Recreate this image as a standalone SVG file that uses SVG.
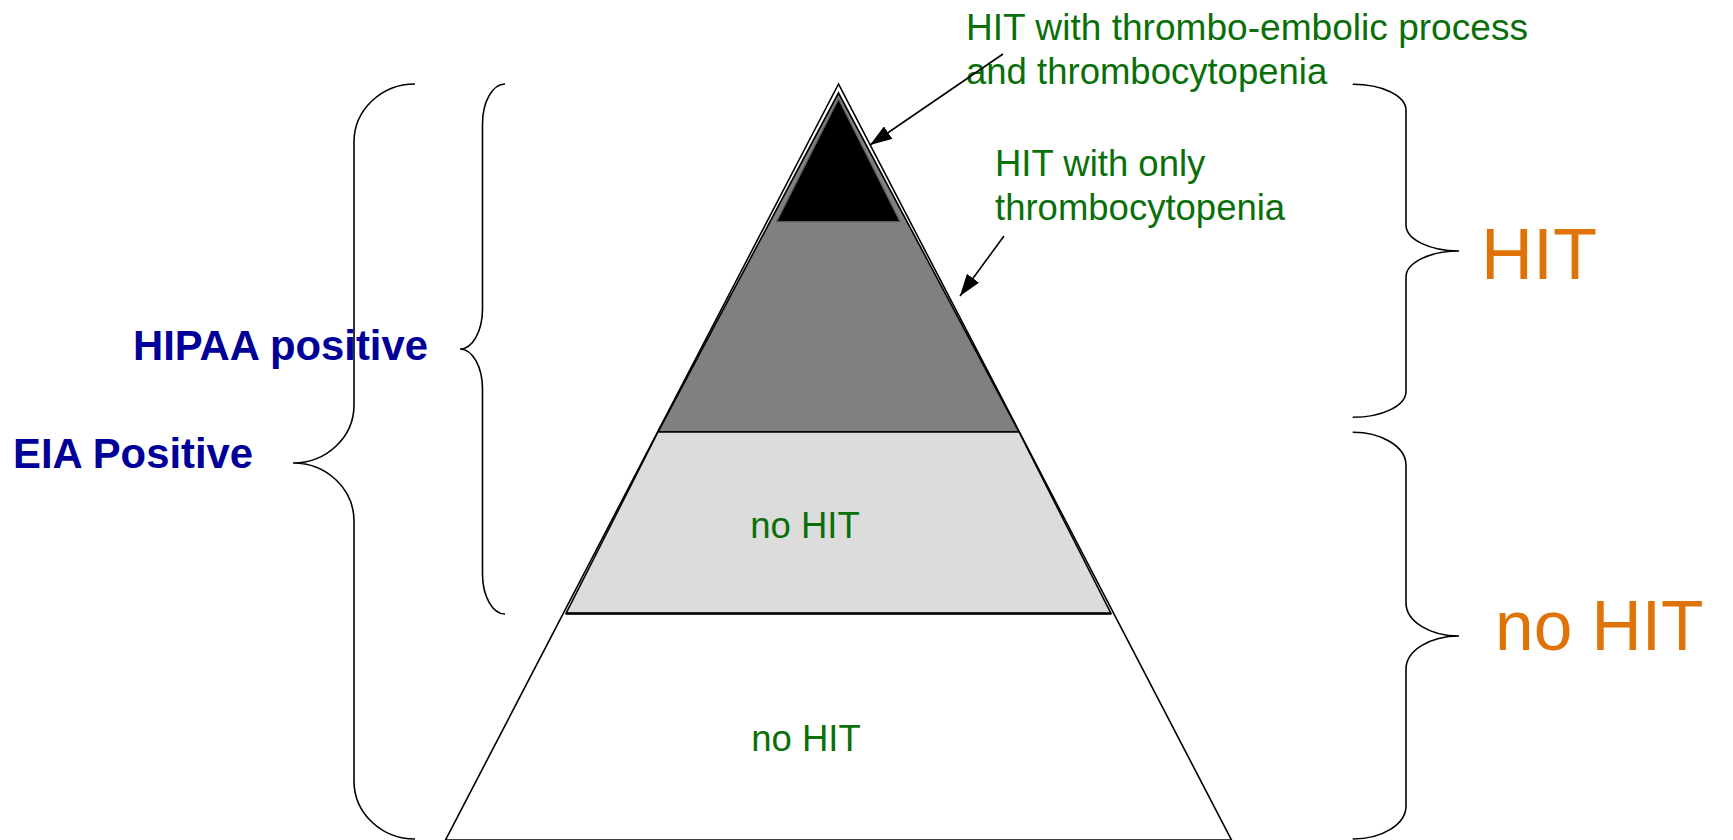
<svg xmlns="http://www.w3.org/2000/svg" width="1733" height="840" viewBox="0 0 1733 840">
<defs>
<style>
.ln{fill:none;stroke:#000;stroke-width:1.6}
.gr{font-family:"Liberation Sans",Arial,sans-serif;font-size:36.5px;fill:#0a6f0a}
.or{font-family:"Liberation Sans",Arial,sans-serif;font-size:72px;fill:#e07308}
.bl{font-family:"Liberation Sans",Arial,sans-serif;font-size:41.8px;font-weight:bold;fill:#000099}
</style>
<marker id="ah" viewBox="0 0 22 15" refX="22" refY="7.5" markerWidth="22" markerHeight="15" markerUnits="userSpaceOnUse" orient="auto">
<path d="M0,0 L22,7.5 L0,15 Z" fill="#000"/>
</marker>
</defs>
<rect width="1733" height="840" fill="#fff"/>

<g id="pyramid-outer">
<polygon points="838.5,84 445.5,840 1231.5,840" fill="#fff" stroke="#000" stroke-width="1.6"/>
</g>
<g id="layer-hit-only">
<polygon points="838.5,93 658,432 1019,432" fill="#808080" stroke="#000" stroke-width="1.6"/>
</g>
<g id="layer-thrombo">
<polygon points="838.5,99 776.7,221.7 900,221.7" fill="#000" stroke="#5a5a5a" stroke-width="1.2"/>
</g>
<g id="layer-nohit-mid">
<polygon points="658,432 1019,432 1111,613.5 566,613.5" fill="#dcdcdc" stroke="#000" stroke-width="1.6"/>
<line x1="566" y1="613.5" x2="1111" y2="613.5" stroke="#000" stroke-width="2.6"/>
<text class="gr" x="805" y="538" text-anchor="middle">no HIT</text>
</g>
<g id="layer-nohit-bottom">
<text class="gr" x="806" y="751" text-anchor="middle">no HIT</text>
</g>

<g id="label-thrombo">
<text class="gr" x="966" y="40" textLength="562" lengthAdjust="spacingAndGlyphs">HIT with thrombo-embolic process</text>
<text class="gr" x="966" y="84">and thrombocytopenia</text>
</g>
<g id="label-hit-only">
<text class="gr" x="995" y="176">HIT with only</text>
<text class="gr" x="995" y="220">thrombocytopenia</text>
</g>

<g id="label-hipaa">
<text class="bl" x="133" y="360">HIPAA positive</text>
</g>
<g id="label-eia">
<text class="bl" x="13" y="468">EIA Positive</text>
</g>

<g id="brace-eia">
<path class="ln" d="M415,84 A61,58 0 0 0 354,142 L354,405 A61,58 0 0 1 293,463 A61,58 0 0 1 354,521 L354,781 A61,58 0 0 0 415,839"/>
</g>
<g id="brace-hipaa">
<path class="ln" d="M505,84 A22.5,40 0 0 0 482.5,124 L482.5,309 A22.5,40 0 0 1 460,349 A22.5,40 0 0 1 482.5,389 L482.5,574 A22.5,40 0 0 0 505,614"/>
</g>

<g id="brace-hit">
<path class="ln" d="M1352.7,84.3 A53,26 0 0 1 1406,110 L1406,225 A53,26 0 0 0 1459,251 A53,26 0 0 0 1406,277 L1406,391.7 A53,26 0 0 1 1352.7,417.3"/>
<text class="or" x="1481" y="279">HIT</text>
</g>
<g id="brace-nohit">
<path class="ln" d="M1352.7,432.3 A53,33 0 0 1 1406,465 L1406,603 A53,33 0 0 0 1459,636 A53,33 0 0 0 1406,669 L1406,806 A53,33 0 0 1 1352.7,839"/>
<text class="or" x="1495" y="650" style="font-size:69.5px">no HIT</text>
</g>

<g id="connectors">
<line class="ln" x1="1003" y1="54" x2="870" y2="145" marker-end="url(#ah)"/>
<line class="ln" x1="1004" y1="236" x2="960" y2="296" marker-end="url(#ah)"/>
</g>
</svg>
